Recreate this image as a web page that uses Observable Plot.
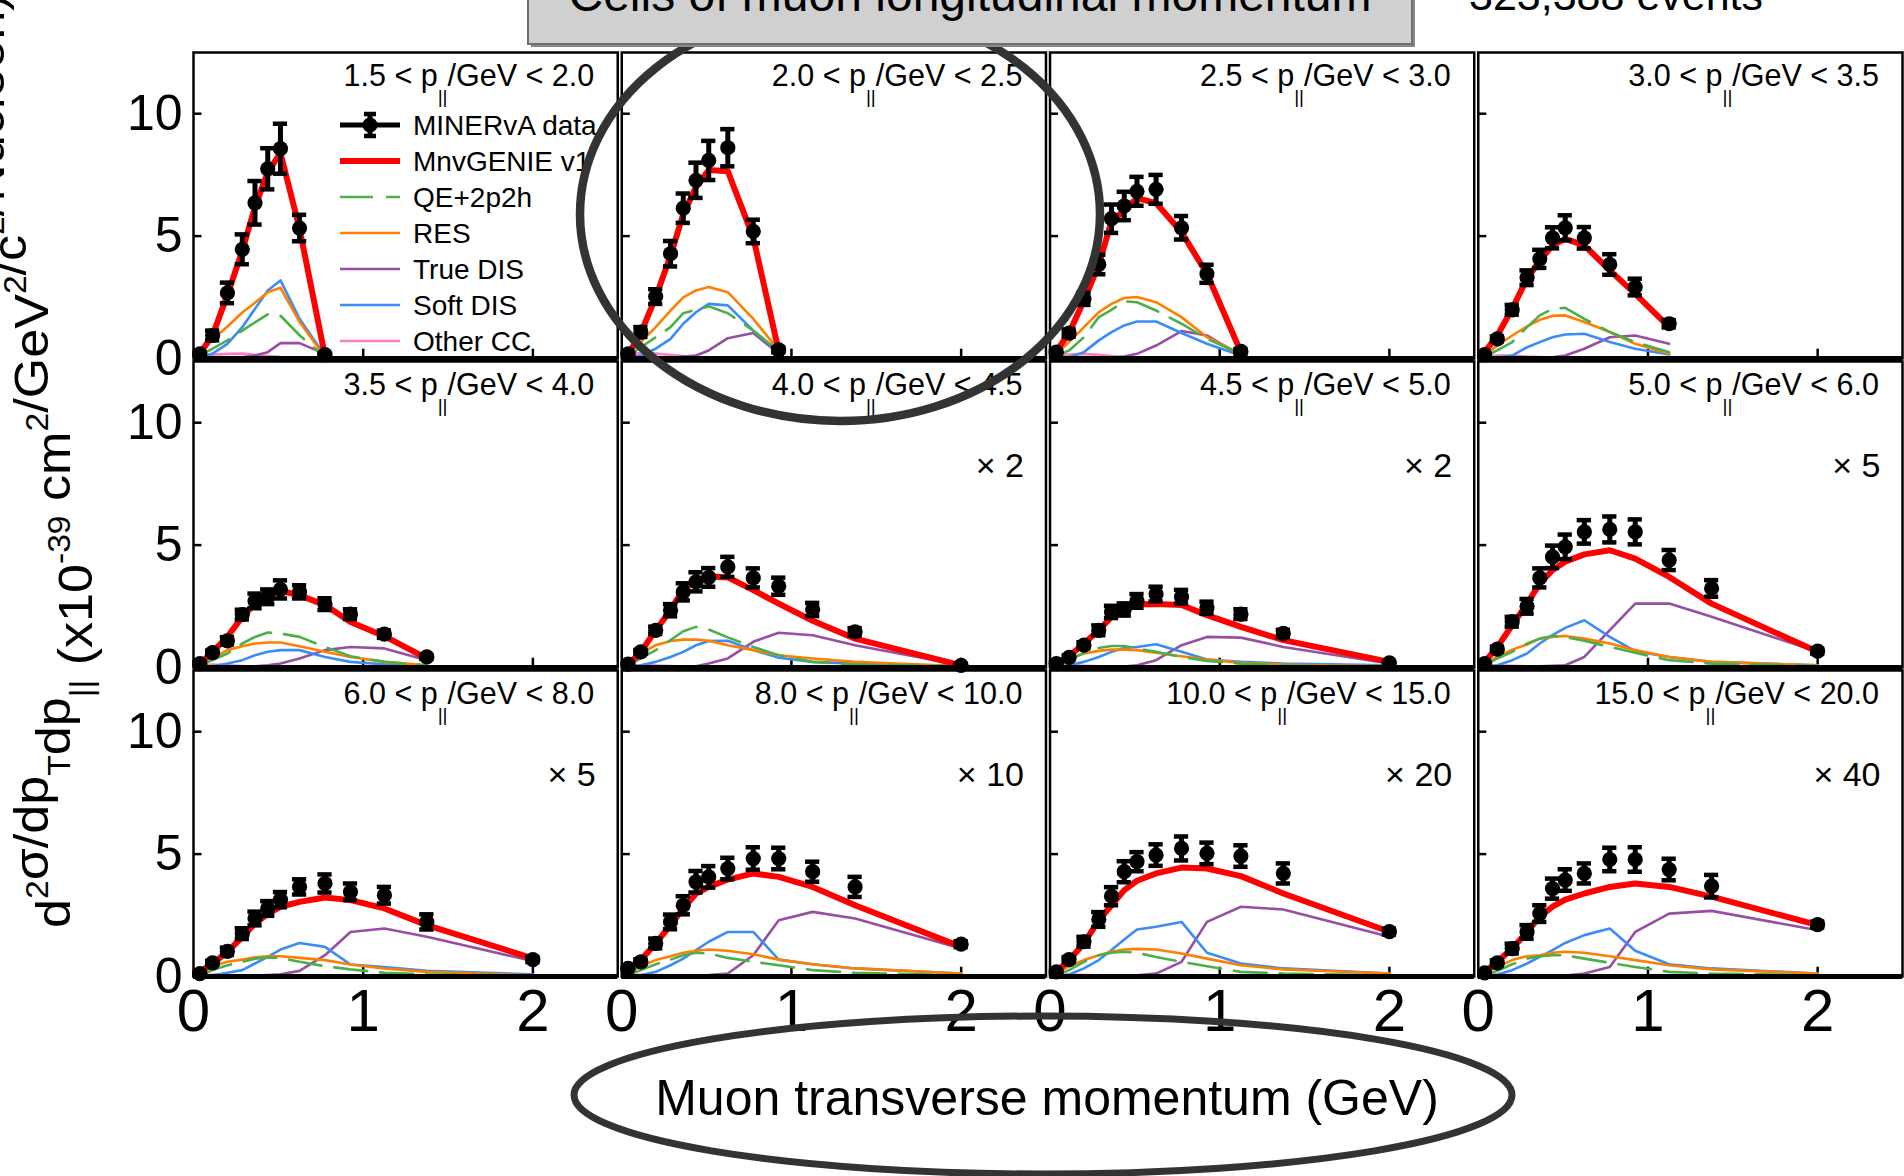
<!DOCTYPE html>
<html>
<head>
<meta charset="utf-8">
<script src="https://cdn.jsdelivr.net/npm/d3@7"></script>
<script src="https://cdn.jsdelivr.net/npm/@observablehq/plot@0.6"></script>
<style>
  html, body { margin: 0; padding: 0; background: #fff; }
  #chart { position: relative; width: 1904px; height: 1176px; overflow: hidden; }
</style>
</head>
<body>
<div id="chart"></div>
<script>
// Muon transverse momentum bin centres (GeV)
const ptCenters = [0.0375, 0.1125, 0.2, 0.2875, 0.3625, 0.4375, 0.5125, 0.625, 0.775, 0.925, 1.125, 1.375, 2.0];

// Longitudinal momentum cell edges (GeV) and the factor each cell is scaled by
const pParallelEdges = [1.5, 2.0, 2.5, 3.0, 3.5, 4.0, 4.5, 5.0, 6.0, 8.0, 10.0, 15.0, 20.0];
const scaleFactors = [1, 1, 1, 1, 1, 2, 2, 5, 5, 10, 20, 40];

const yTicks = [0, 5, 10];
const xTicks = [0, 1, 2];

// MINERvA data (already multiplied by the cell's scale factor)
const dataValues = [
  [0.19, 0.94, 2.68, 4.46, 6.36, 7.75, 8.57, 5.33, 0.16],
  [0.19, 1.08, 2.53, 4.28, 6.14, 7.28, 8.09, 8.61, 5.19, 0.35],
  [0.26, 1.04, 2.44, 3.84, 5.71, 6.23, 6.83, 6.91, 5.34, 3.46, 0.29],
  [0.16, 0.80, 1.99, 3.30, 4.07, 4.93, 5.34, 4.93, 3.84, 2.92, 1.42],
  [0.16, 0.61, 1.09, 2.16, 2.72, 2.89, 3.19, 3.09, 2.59, 2.18, 1.36, 0.43],
  [0.14, 0.64, 1.52, 2.34, 3.09, 3.50, 3.68, 4.11, 3.66, 3.32, 2.37, 1.46, 0.09],
  [0.16, 0.41, 0.91, 1.52, 2.27, 2.37, 2.72, 3.00, 2.89, 2.44, 2.18, 1.39, 0.19],
  [0.16, 0.75, 1.87, 2.50, 3.66, 4.52, 4.93, 5.54, 5.64, 5.54, 4.39, 3.23, 0.67],
  [0.12, 0.56, 1.03, 1.75, 2.37, 2.78, 3.14, 3.66, 3.80, 3.46, 3.32, 2.23, 0.69],
  [0.33, 0.60, 1.35, 2.23, 2.91, 3.87, 4.07, 4.41, 4.82, 4.82, 4.28, 3.66, 1.32],
  [0.19, 0.69, 1.42, 2.33, 3.28, 4.28, 4.69, 4.96, 5.23, 5.03, 4.92, 4.21, 1.83],
  [0.15, 0.56, 1.14, 1.82, 2.57, 3.59, 3.94, 4.21, 4.78, 4.78, 4.37, 3.69, 2.12]
];
const dataErrors = [
  [0.05, 0.20, 0.42, 0.61, 0.89, 0.84, 1.02, 0.54, 0.05],
  [0.05, 0.20, 0.30, 0.52, 0.60, 0.72, 0.80, 0.76, 0.48, 0.10],
  [0.05, 0.15, 0.25, 0.40, 0.58, 0.58, 0.59, 0.59, 0.48, 0.37, 0.10],
  [0.05, 0.10, 0.20, 0.30, 0.37, 0.43, 0.51, 0.44, 0.42, 0.34, 0.15],
  [0.05, 0.08, 0.15, 0.20, 0.30, 0.30, 0.37, 0.27, 0.24, 0.20, 0.15, 0.08],
  [0.05, 0.08, 0.15, 0.25, 0.35, 0.39, 0.38, 0.41, 0.39, 0.35, 0.27, 0.15, 0.05],
  [0.05, 0.08, 0.12, 0.20, 0.25, 0.25, 0.28, 0.30, 0.28, 0.25, 0.20, 0.15, 0.05],
  [0.05, 0.10, 0.20, 0.30, 0.39, 0.46, 0.50, 0.48, 0.53, 0.51, 0.41, 0.34, 0.10],
  [0.05, 0.08, 0.15, 0.22, 0.28, 0.30, 0.31, 0.31, 0.37, 0.34, 0.34, 0.31, 0.10],
  [0.05, 0.10, 0.20, 0.30, 0.37, 0.44, 0.44, 0.44, 0.46, 0.44, 0.41, 0.41, 0.12],
  [0.05, 0.10, 0.20, 0.30, 0.37, 0.43, 0.39, 0.44, 0.49, 0.44, 0.44, 0.41, 0.12],
  [0.05, 0.10, 0.20, 0.28, 0.34, 0.41, 0.44, 0.41, 0.48, 0.50, 0.44, 0.46, 0.12]
];

// MnvGENIE v1 total prediction
const genieTotal = [
  [0.20, 0.95, 2.60, 4.40, 6.20, 7.60, 8.40, 5.30, 0.10],
  [0.15, 1.05, 2.50, 4.20, 5.90, 7.00, 7.70, 7.65, 4.95, 0.30],
  [0.30, 1.04, 2.37, 3.84, 5.60, 6.05, 6.55, 6.35, 5.16, 3.46, 0.26],
  [0.26, 0.94, 2.03, 3.26, 4.00, 4.62, 4.89, 4.62, 3.60, 2.64, 1.28],
  [0.16, 0.64, 1.25, 2.07, 2.61, 2.95, 3.13, 2.95, 2.55, 1.86, 1.28, 0.37],
  [0.10, 0.64, 1.52, 2.34, 3.20, 3.57, 3.73, 3.68, 3.16, 2.61, 1.91, 1.18, 0.09],
  [0.16, 0.46, 0.98, 1.52, 2.07, 2.34, 2.58, 2.59, 2.55, 2.14, 1.66, 1.12, 0.23],
  [0.23, 0.84, 1.73, 2.61, 3.43, 3.98, 4.32, 4.62, 4.79, 4.45, 3.70, 2.61, 0.64],
  [0.19, 0.53, 1.01, 1.62, 2.17, 2.55, 2.85, 3.05, 3.23, 3.12, 2.78, 2.10, 0.74],
  [0.33, 0.67, 1.35, 2.10, 2.78, 3.39, 3.66, 3.96, 4.21, 4.07, 3.66, 2.91, 1.21],
  [0.19, 0.67, 1.35, 2.30, 2.91, 3.53, 3.91, 4.21, 4.45, 4.41, 4.10, 3.39, 1.83],
  [0.19, 0.60, 1.14, 1.82, 2.44, 2.85, 3.14, 3.39, 3.66, 3.80, 3.66, 3.26, 2.10]
];

// Interaction channel components
const qe2p2h = [
  [0.15, 0.40, 0.74, 1.14, 1.48, 1.80, 1.75, 0.95, 0.05],
  [0.08, 0.46, 0.87, 1.28, 1.85, 1.99, 2.13, 1.85, 1.14, 0.30],
  [0.08, 0.33, 0.87, 1.69, 1.99, 2.34, 2.30, 1.96, 1.42, 0.80, 0.19],
  [0.08, 0.33, 0.67, 1.28, 1.76, 2.03, 2.07, 1.62, 1.08, 0.67, 0.26],
  [0.09, 0.30, 0.57, 0.98, 1.25, 1.43, 1.39, 1.25, 0.84, 0.46, 0.23, 0.09],
  [0.09, 0.37, 0.71, 1.12, 1.48, 1.66, 1.55, 1.23, 0.84, 0.50, 0.23, 0.12, 0.05],
  [0.05, 0.30, 0.60, 0.80, 0.88, 0.88, 0.78, 0.64, 0.43, 0.27, 0.16, 0.09, 0.05],
  [0.09, 0.37, 0.64, 0.98, 1.18, 1.29, 1.25, 1.09, 0.84, 0.60, 0.30, 0.16, 0.07],
  [0.05, 0.26, 0.46, 0.60, 0.73, 0.78, 0.76, 0.60, 0.42, 0.29, 0.15, 0.09, 0.04],
  [0.05, 0.26, 0.50, 0.69, 0.87, 0.97, 0.94, 0.76, 0.60, 0.46, 0.26, 0.15, 0.05],
  [0.05, 0.26, 0.60, 0.87, 0.97, 1.01, 0.97, 0.80, 0.60, 0.42, 0.19, 0.12, 0.05],
  [0.05, 0.23, 0.50, 0.73, 0.83, 0.87, 0.87, 0.73, 0.56, 0.39, 0.19, 0.12, 0.05]
];
const res = [
  [0.33, 0.78, 1.31, 1.88, 2.28, 2.71, 2.89, 1.50, 0.05],
  [0.19, 0.67, 1.28, 1.96, 2.50, 2.78, 2.92, 2.71, 1.62, 0.33],
  [0.19, 0.67, 1.28, 1.89, 2.23, 2.47, 2.51, 2.30, 1.69, 0.87, 0.19],
  [0.12, 0.53, 0.94, 1.31, 1.58, 1.74, 1.76, 1.49, 1.08, 0.60, 0.19],
  [0.09, 0.37, 0.71, 0.87, 0.98, 1.02, 1.02, 0.87, 0.64, 0.43, 0.23, 0.09],
  [0.23, 0.57, 0.91, 1.08, 1.14, 1.14, 1.09, 0.91, 0.71, 0.50, 0.37, 0.23, 0.05],
  [0.09, 0.37, 0.57, 0.68, 0.73, 0.73, 0.71, 0.60, 0.46, 0.33, 0.19, 0.12, 0.05],
  [0.16, 0.43, 0.73, 0.94, 1.18, 1.25, 1.29, 1.18, 0.98, 0.71, 0.43, 0.23, 0.09],
  [0.12, 0.42, 0.60, 0.69, 0.78, 0.83, 0.83, 0.76, 0.67, 0.49, 0.33, 0.19, 0.05],
  [0.12, 0.42, 0.67, 0.83, 0.97, 1.05, 1.10, 1.05, 0.91, 0.69, 0.50, 0.33, 0.12],
  [0.12, 0.42, 0.67, 0.87, 1.01, 1.10, 1.13, 1.10, 0.94, 0.73, 0.46, 0.29, 0.12],
  [0.12, 0.39, 0.67, 0.83, 0.87, 0.97, 1.01, 0.97, 0.83, 0.67, 0.46, 0.29, 0.12]
];
const trueDis = [
  [0, 0, 0.02, 0.05, 0.12, 0.26, 0.63, 0.63, 0.19],
  [0, 0, 0, 0.03, 0.08, 0.12, 0.33, 0.83, 1.04, 0.19],
  [0, 0, 0, 0.01, 0.03, 0.08, 0.19, 0.53, 1.12, 0.94, 0.12],
  [0, 0, 0, 0, 0.02, 0.05, 0.12, 0.40, 0.87, 0.94, 0.60],
  [0, 0, 0, 0.02, 0.05, 0.09, 0.16, 0.37, 0.71, 0.84, 0.78, 0.30],
  [0, 0, 0, 0.03, 0.04, 0.05, 0.16, 0.37, 1.05, 1.42, 1.32, 0.91, 0.09],
  [0, 0, 0, 0, 0.02, 0.04, 0.09, 0.30, 0.91, 1.25, 1.22, 0.84, 0.16],
  [0, 0, 0, 0.02, 0.05, 0.07, 0.09, 0.43, 1.53, 2.61, 2.61, 2.07, 0.64],
  [0, 0, 0, 0, 0.04, 0.06, 0.09, 0.23, 0.87, 1.82, 1.96, 1.62, 0.63],
  [0, 0, 0, 0, 0.02, 0.04, 0.06, 0.12, 0.87, 2.30, 2.64, 2.37, 1.14],
  [0, 0, 0, 0, 0.04, 0.04, 0.05, 0.12, 0.60, 2.23, 2.85, 2.74, 1.62],
  [0, 0, 0, 0, 0, 0.02, 0.04, 0.12, 0.39, 1.82, 2.57, 2.68, 1.89]
];
const softDis = [
  [0.03, 0.20, 0.60, 1.28, 2.03, 2.78, 3.19, 1.62, 0.10],
  [0.03, 0.12, 0.40, 0.80, 1.42, 1.89, 2.23, 2.17, 1.14, 0.26],
  [0, 0.05, 0.26, 0.74, 1.08, 1.35, 1.51, 1.51, 1.04, 0.60, 0.12],
  [0, 0.05, 0.12, 0.46, 0.67, 0.87, 0.98, 1.01, 0.67, 0.40, 0.16],
  [0, 0.05, 0.16, 0.30, 0.50, 0.64, 0.71, 0.71, 0.43, 0.23, 0.13, 0.05],
  [0.03, 0.09, 0.23, 0.43, 0.64, 0.91, 1.08, 1.09, 0.71, 0.40, 0.23, 0.16, 0.07],
  [0.03, 0.09, 0.23, 0.43, 0.64, 0.80, 0.84, 0.95, 0.64, 0.33, 0.23, 0.16, 0.09],
  [0.03, 0.09, 0.30, 0.57, 0.98, 1.32, 1.62, 1.93, 1.25, 0.67, 0.43, 0.23, 0.09],
  [0.01, 0.05, 0.15, 0.26, 0.53, 0.80, 1.10, 1.37, 1.21, 0.49, 0.39, 0.23, 0.09],
  [0, 0.05, 0.19, 0.46, 0.73, 1.08, 1.42, 1.82, 1.82, 0.69, 0.50, 0.33, 0.12],
  [0.01, 0.08, 0.33, 0.67, 1.08, 1.51, 1.92, 2.03, 2.23, 0.97, 0.53, 0.33, 0.12],
  [0.01, 0.08, 0.26, 0.53, 0.80, 1.08, 1.37, 1.69, 1.96, 1.05, 0.50, 0.33, 0.12]
];
const otherCC = [
  [0.12, 0.16, 0.19, 0.20, 0.15, 0.10, 0.06, 0.02, 0.01],
  [0.18, 0.22, 0.20, 0.15, 0.10, 0.06, 0.04, 0.02, 0.01, 0],
  [0.12, 0.16, 0.19, 0.15, 0.10, 0.06, 0.04, 0.02, 0.01, 0, 0],
  [0.08, 0.12, 0.12, 0.08, 0.06, 0.04, 0.03, 0.02, 0.01, 0, 0],
  [0.09, 0.12, 0.09, 0.06, 0.04, 0.03, 0.02, 0.02, 0.01, 0.01, 0, 0],
  [0.06, 0.09, 0.08, 0.06, 0.04, 0.03, 0.02, 0.02, 0.01, 0.01, 0.01, 0, 0],
  [0.06, 0.08, 0.07, 0.05, 0.04, 0.03, 0.02, 0.02, 0.01, 0.01, 0.01, 0, 0],
  [0.05, 0.08, 0.07, 0.05, 0.04, 0.03, 0.02, 0.02, 0.01, 0.01, 0.01, 0, 0],
  [0.05, 0.07, 0.06, 0.05, 0.04, 0.03, 0.02, 0.02, 0.01, 0.01, 0.01, 0, 0],
  [0.05, 0.07, 0.06, 0.05, 0.04, 0.03, 0.02, 0.02, 0.01, 0.01, 0.01, 0, 0],
  [0.05, 0.07, 0.06, 0.05, 0.04, 0.03, 0.02, 0.02, 0.01, 0.01, 0.01, 0, 0],
  [0.05, 0.07, 0.06, 0.05, 0.04, 0.03, 0.02, 0.02, 0.01, 0.01, 0.01, 0, 0]
];

const legendLabels = ["MINERvA data", "MnvGENIE v1", "QE+2p2h", "RES", "True DIS", "Soft DIS", "Other CC"];

const FONT = "'Liberation Sans', Arial, Helvetica, sans-serif";
const COLORS = {
  genie: "#ff0000",
  qe: "#4daf4a",
  res: "#ff7f00",
  trueDis: "#984ea3",
  softDis: "#3b8cf5",
  other: "#f781bf"
};
const QE_DASH = "33,13";
const COMPONENT_WIDTH = 2.6;

// ---- reshape into tidy rows, one per (cell, pT bin) ----
const cellOf = p => ({panel: p, col: p % 4, row: Math.floor(p / 4)});
function tidy(series, trimLeadingZeros = false) {
  const out = [];
  series.forEach((vals, p) => {
    let start = 0;
    if (trimLeadingZeros) {
      const first = vals.findIndex(v => v > 0);
      start = Math.max(0, first - 1);
    }
    vals.forEach((v, k) => {
      if (k >= start) out.push({...cellOf(p), pt: ptCenters[k], value: v});
    });
  });
  return out;
}
const dataRows = [];
dataValues.forEach((vals, p) => vals.forEach((v, k) =>
  dataRows.push({...cellOf(p), pt: ptCenters[k], value: v, err: dataErrors[p][k]})));

const cells = scaleFactors.map((f, p) => ({...cellOf(p), factor: f, lo: pParallelEdges[p], hi: pParallelEdges[p + 1]}));
const yTickLabels = [0, 1, 2].flatMap(row => yTicks.map(v => ({col: 0, row, v})));
const xTickLabels = [0, 1, 2, 3].flatMap(col => xTicks.map(v => ({col, row: 2, v})));

const capHalf = 0.042;   // half width of error-bar caps, in GeV
const facet = {fx: "col", fy: "row"};

const componentLine = (series, stroke, extra = {}) =>
  Plot.line(series, {x: "pt", y: "value", ...facet, stroke, strokeWidth: COMPONENT_WIDTH, ...extra});

const chart = Plot.plot({
  width: 1904,
  height: 1176,
  marginLeft: 193,
  marginRight: 2,
  marginTop: 52,
  marginBottom: 200,
  style: {fontFamily: FONT, background: "#fff", color: "#000"},
  x: {domain: [0, 2.5], axis: null},
  y: {domain: [0, 12.5], axis: null},
  fx: {domain: [0, 1, 2, 3], axis: null, paddingInner: 0.0094, paddingOuter: 0, round: false},
  fy: {domain: [0, 1, 2], axis: null, paddingInner: 0.0097, paddingOuter: 0, round: false},
  marks: [
    Plot.frame({stroke: "#000", strokeWidth: 2.5}),
    Plot.ruleY([5, 10], {x1: 0, x2: 0.05, stroke: "#000", strokeWidth: 2.5}),
    Plot.ruleX([1, 2], {y1: 0, y2: 0.38, stroke: "#000", strokeWidth: 2.5}),

    componentLine(tidy(otherCC), COLORS.other),
    componentLine(tidy(trueDis, true), COLORS.trueDis),
    componentLine(tidy(softDis), COLORS.softDis),
    componentLine(tidy(res), COLORS.res),
    componentLine(tidy(qe2p2h), COLORS.qe, {strokeDasharray: QE_DASH}),

    Plot.line(tidy(genieTotal), {x: "pt", y: "value", ...facet, stroke: COLORS.genie, strokeWidth: 6}),

    Plot.ruleX(dataRows, {x: "pt", y1: d => d.value - d.err, y2: d => d.value + d.err, ...facet, stroke: "#000", strokeWidth: 5}),
    Plot.ruleY(dataRows, {y: d => d.value + d.err, x1: d => d.pt - capHalf, x2: d => d.pt + capHalf, ...facet, stroke: "#000", strokeWidth: 4.5}),
    Plot.ruleY(dataRows, {y: d => d.value - d.err, x1: d => d.pt - capHalf, x2: d => d.pt + capHalf, ...facet, stroke: "#000", strokeWidth: 4.5}),
    Plot.dot(dataRows, {x: "pt", y: "value", ...facet, r: 7.6, fill: "#000"}),

    Plot.ruleY([0], {stroke: "#000", strokeWidth: 5}),

    Plot.text(cells.filter(d => d.factor > 1), {
      ...facet, frameAnchor: "top-right", textAnchor: "end", lineAnchor: "middle",
      dx: -22, dy: 105, text: d => `\u00d7 ${d.factor}`, fontSize: 34, fill: "#000"
    }),
    Plot.text(yTickLabels, {
      ...facet, x: 0, y: "v", text: d => String(d.v), textAnchor: "end", lineAnchor: "middle",
      dx: -11, fontSize: 50, fill: "#000"
    }),
    Plot.text(xTickLabels, {
      ...facet, x: "v", y: 0, text: d => String(d.v), textAnchor: "middle", lineAnchor: "top",
      dy: 12, fontSize: 60, fill: "#000"
    })
  ]
});

document.getElementById("chart").appendChild(chart);

// ---- cell labels, legend, axis titles and annotations ----
const sFx = chart.scale("fx"), sFy = chart.scale("fy");
const cellLeft = col => sFx.apply(col);
const cellTop = row => sFy.apply(row);
const bw = sFx.bandwidth;

const svg = d3.select(chart);
const g = svg.append("g").attr("font-family", FONT).attr("fill", "#000").attr("text-anchor", "start");

const fmt = v => v.toFixed(1);
cells.forEach(c => {
  const t = g.append("text")
    .attr("x", cellLeft(c.col) + bw - 23)
    .attr("y", cellTop(c.row) + 34)
    .attr("text-anchor", "end")
    .attr("font-size", 30.5);
  t.append("tspan").text(`${fmt(c.lo)} < p`);
  t.append("tspan").attr("font-size", 19).attr("dy", 17).text("||");
  t.append("tspan").attr("dy", -17).text(`/GeV < ${fmt(c.hi)}`);
});

// Legend in the first cell
{
  const x0 = cellLeft(0) + 147, x1 = cellLeft(0) + 207, xm = (x0 + x1) / 2, tx = cellLeft(0) + 220;
  const y0 = cellTop(0) + 73, step = 36;
  const leg = g.append("g");
  const styles = [
    {stroke: "#000", width: 5},
    {stroke: COLORS.genie, width: 6},
    {stroke: COLORS.qe, width: COMPONENT_WIDTH, dash: QE_DASH},
    {stroke: COLORS.res, width: COMPONENT_WIDTH},
    {stroke: COLORS.trueDis, width: COMPONENT_WIDTH},
    {stroke: COLORS.softDis, width: COMPONENT_WIDTH},
    {stroke: COLORS.other, width: COMPONENT_WIDTH}
  ];
  legendLabels.forEach((label, i) => {
    const y = y0 + i * step, s = styles[i];
    leg.append("line").attr("x1", x0).attr("x2", x1).attr("y1", y).attr("y2", y)
      .attr("stroke", s.stroke).attr("stroke-width", s.width)
      .attr("stroke-dasharray", s.dash || null);
    if (i === 0) {
      leg.append("line").attr("x1", xm).attr("x2", xm).attr("y1", y - 11).attr("y2", y + 11)
        .attr("stroke", "#000").attr("stroke-width", 5);
      [y - 11, y + 11].forEach(yc => leg.append("line").attr("x1", xm - 6).attr("x2", xm + 6)
        .attr("y1", yc).attr("y2", yc).attr("stroke", "#000").attr("stroke-width", 4.5));
      leg.append("circle").attr("cx", xm).attr("cy", y).attr("r", 7.6).attr("fill", "#000");
    }
    leg.append("text").attr("x", tx).attr("y", y + 10).attr("font-size", 28).attr("text-anchor", "start").text(label);
  });
}

// Y-axis title (rotated), fitted to its length
{
  const t = g.append("text").attr("font-size", 48).attr("text-anchor", "start");
  const sup = (txt) => { t.append("tspan").attr("font-size", 31).attr("dy", -22).text(txt); t.append("tspan").attr("dy", 22).text(""); };
  const sub = (txt) => { t.append("tspan").attr("font-size", 31).attr("dy", 22).text(txt); t.append("tspan").attr("dy", -22).text(""); };
  const main = (txt) => t.append("tspan").text(txt);
  main("d"); sup("2"); main("\u03c3/dp"); sub("T"); main("dp"); sub("||");
  main(" (x10"); sup("-39"); main(" cm"); sup("2"); main("/GeV"); sup("2"); main("/c"); sup("2"); main("/Nucleon)");
  const len = t.node().getComputedTextLength();
  const target = 935;
  t.attr("transform", `translate(70,928) rotate(-90) scale(${target / len},1)`);
}

// X-axis title
g.append("text")
  .attr("x", 1047).attr("y", 1115)
  .attr("text-anchor", "middle")
  .attr("font-size", 50)
  .text("Muon transverse momentum (GeV)");

// Annotations: highlighted cell, heading box, event count, axis-title ring
const ann = svg.append("g").attr("font-family", FONT);
ann.append("ellipse").attr("cx", 840).attr("cy", 214).attr("rx", 260).attr("ry", 207)
  .attr("fill", "none").attr("stroke", "#333").attr("stroke-width", 8.5);
ann.append("ellipse").attr("cx", 1043).attr("cy", 1095).attr("rx", 469).attr("ry", 79)
  .attr("fill", "none").attr("stroke", "#333").attr("stroke-width", 7);
// heading box with a soft drop edge
ann.append("rect").attr("x", 531).attr("y", -27).attr("width", 884).attr("height", 74)
  .attr("fill", "#8a8a8a");
ann.append("rect").attr("x", 528).attr("y", -30).attr("width", 884).attr("height", 74)
  .attr("fill", "#d0d0d0").attr("stroke", "#6e6e6e").attr("stroke-width", 2);
ann.append("text").attr("x", 970).attr("y", 11).attr("text-anchor", "middle")
  .attr("font-size", 48).attr("fill", "#000").text("Cells of muon longitudinal momentum");
ann.append("text").attr("x", 1469).attr("y", 10).attr("text-anchor", "start")
  .attr("font-size", 43).attr("fill", "#000").text("323,388 events");
</script>
</body>
</html>
